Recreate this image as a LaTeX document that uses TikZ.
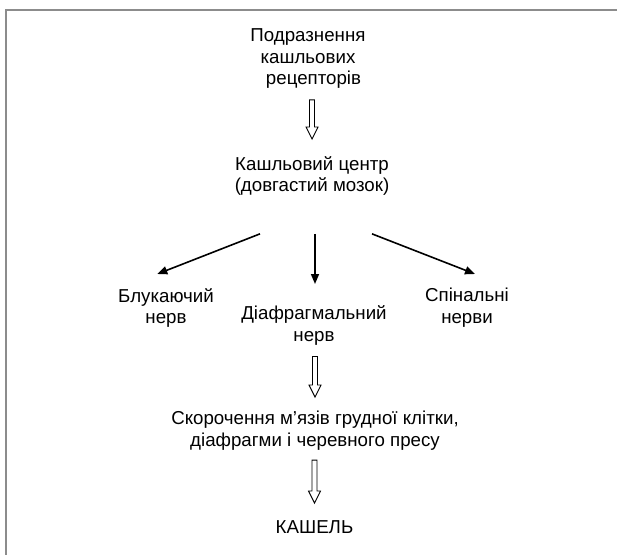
\documentclass[tikz,border=0pt]{standalone}
\usepackage{fontspec}
\setmainfont{Liberation Sans}
\usetikzlibrary{positioning, calc, arrows.meta}
\definecolor{frameGray}{RGB}{140, 140, 140}
\tikzset{
    base/.style={
        font=\fontsize{18.7}{21.7}\selectfont,
        align=center,
        inner sep=0pt,
        anchor=north
    },
    label/.style={
        base,
        text=black
    },
    flow/.style={
        -{Triangle[length=10pt, width=8pt]},
        line width=1.6pt,
        color=black
    },
    hollow/.style={
        draw=black,
        line width=0.9pt,
        fill=white,
        line join=miter
    }
}
% block arrow between two nodes: from, to, gap below from, gap above to
\newcommand{\hollowarrow}[4]{%
    \draw[hollow] let \p1=($(#1.south)+(0,-#3)$), \p2=($(#2.north)+(0,#4)$) in
        (\x2-2.5pt,\y1) -- (\x2+2.5pt,\y1) -- (\x2+2.5pt,\y2+12pt)
        -- (\x2+6pt,\y2+12pt) -- (\x2,\y2) -- (\x2-6pt,\y2+12pt)
        -- (\x2-2.5pt,\y2+12pt) -- cycle;
}

\begin{document}
\begin{tikzpicture}[x=1pt, y=1pt]
    \useasboundingbox (0,0) rectangle (617,-554);

    % Frame
    \draw[frameGray, line width=1.5pt] (6,-570) |- (630,-10);

    % Nodes
    \node[label] (recep) at (308,-28.3) {Подразнення\\кашльових\\\hspace*{11pt}рецепторів};
    \node[label] (centre) at (312,-156) {Кашльовий центр\\(довгастий мозок)};
    \node[label] (vagus) at (166,-288) {Блукаючий\\нерв};
    \node[label] (phren) at (314,-305.6) {Діафрагмальний\\нерв};
    \node[label] (spinal) at (467,-288) {Спінальні\\нерви};
    \node[label] (muscle) at (315,-410.6) {Скорочення м’язів грудної клітки,\\діафрагми і черевного пресу};
    \node[label] (cough) at (314.5,-520) {КАШЕЛЬ};

    % Block arrows
    \hollowarrow{recep}{centre}{11pt}{17pt}
    \hollowarrow{phren}{muscle}{11pt}{13.6pt}
    \hollowarrow{muscle}{cough}{10pt}{17pt}

    % Branches
    \draw[flow] ($(centre.south)+(-52,-38)$) -- ($(vagus.north)+(-8.7,14)$);
    \draw[flow] ($(centre.south)+(3,-38)$) -- ($(phren.north)+(1,21.6)$);
    \draw[flow] ($(centre.south)+(60,-38)$) -- ($(spinal.north)+(8,14)$);

\end{tikzpicture}
\end{document}
